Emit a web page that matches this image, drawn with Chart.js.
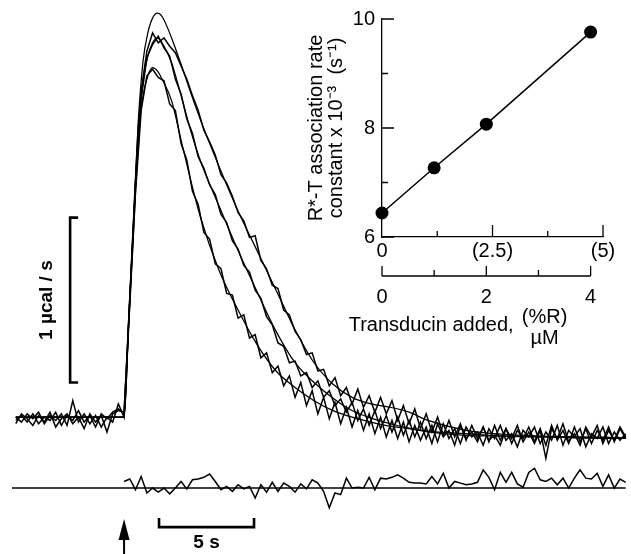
<!DOCTYPE html>
<html>
<head>
<meta charset="utf-8">
<script src="https://cdn.jsdelivr.net/npm/chart.js@4/dist/chart.umd.min.js"></script>
<style>
  html, body { margin: 0; padding: 0; background: #fff; }
  #wrap { position: relative; width: 631px; height: 554px; }
  #traceChart { position: absolute; left: 0; top: 0; }
  #rateChart { position: absolute; left: 300px; top: 0; }
</style>
</head>
<body>
<div id="wrap">
  <canvas id="traceChart" width="631" height="554"></canvas>
  <canvas id="rateChart" width="331" height="360"></canvas>
</div>
<script>
// ---- heat traces: time after injection (s), one sample every 0.3 s ----
const sampleTimes = [
  -5.7,-5.4,-5.1,-4.8,-4.5,-4.2,-3.9,-3.6,-3.3,-3.0,-2.7,-2.4,-2.1,-1.8,-1.5,-1.2,-0.9,-0.6,-0.3,
  0,0.3,0.6,0.9,1.2,1.5,1.8,2.1,2.4,2.7,
  3.0,3.3,3.6,3.9,4.2,4.5,4.8,5.1,5.4,5.7,
  6.0,6.3,6.6,6.9,7.2,7.5,7.8,8.1,8.4,8.7,
  9.0,9.3,9.6,9.9,10.2,10.5,10.8,11.1,11.4,11.7,
  12.0,12.3,12.6,12.9,13.2,13.5,13.8,14.1,14.4,14.7,
  15.0,15.3,15.6,15.9,16.2,16.5,16.8,17.1,17.4,17.7,
  18.0,18.3,18.6,18.9,19.2,19.5,19.8,20.1,20.4,20.7,
  21.0,21.3,21.6,21.9,22.2,22.5,22.8,23.1,23.4,23.7,
  24.0,24.3,24.6,24.9,25.2,25.5,25.8,26.1,26.4
];

// measured heat flow (µcal/s), slow / middle / fast trace
const traceSlow = [
  -0.02,0.01,-0.03,0.02,-0.04,0.00,-0.02,0.03,-0.05,0.01,-0.02,0.04,-0.03,0.01,-0.06,0.02,-0.01,0.03,0.05,
  0.02,0.72,1.42,1.98,2.22,2.33,2.27,2.30,2.25,2.21,
  2.13,2.05,1.95,1.86,1.74,1.67,1.59,1.47,1.42,1.34,
  1.24,1.19,1.09,1.10,0.95,0.90,0.80,0.78,0.65,0.62,
  0.52,0.47,0.38,0.39,0.28,0.29,0.19,0.24,0.13,0.18,
  0.08,0.17,0.06,0.13,0.03,0.12,0.02,0.10,-0.02,0.07,
  -0.04,0.05,-0.07,0.02,-0.09,0.00,-0.11,-0.02,-0.12,-0.04,
  -0.14,-0.05,-0.13,-0.06,-0.15,-0.05,-0.14,-0.07,-0.16,-0.08,
  -0.13,-0.06,-0.15,-0.07,-0.17,-0.05,-0.14,-0.08,-0.16,-0.06,
  -0.15,-0.07,-0.16,-0.08,-0.14,-0.06,-0.15,-0.07,-0.13
];
const traceMiddle = [
  0.00,-0.03,0.02,-0.01,0.03,-0.04,0.01,-0.02,0.02,-0.05,0.10,-0.03,0.02,-0.04,0.01,-0.06,0.00,-0.03,0.08,
  0.00,0.70,1.38,1.93,2.18,2.26,2.31,2.24,2.19,2.05,
  1.96,1.81,1.72,1.58,1.51,1.41,1.35,1.23,1.18,1.07,
  1.02,0.92,0.88,0.77,0.72,0.61,0.56,0.45,0.43,0.33,
  0.34,0.25,0.27,0.18,0.22,0.12,0.16,0.07,0.11,0.03,
  0.09,-0.02,0.05,-0.05,0.04,-0.07,0.01,-0.09,0.00,-0.11,
  -0.02,-0.12,-0.03,-0.13,-0.05,-0.15,-0.04,-0.13,-0.07,-0.16,
  -0.06,-0.12,-0.09,-0.17,-0.07,-0.13,-0.05,-0.14,-0.10,-0.18,
  -0.08,-0.12,-0.06,-0.16,-0.09,-0.14,-0.05,-0.17,-0.08,-0.12,
  -0.07,-0.18,-0.10,-0.13,-0.06,-0.16,-0.09,-0.14,-0.10
];
const traceFast = [
  -0.04,0.02,-0.01,-0.05,0.01,-0.03,0.03,-0.06,-0.01,0.02,-0.04,0.00,-0.07,0.02,-0.03,0.01,-0.09,0.02,0.04,
  0.03,0.68,1.36,1.86,2.07,2.11,2.06,2.04,1.90,1.86,
  1.66,1.56,1.37,1.29,1.12,1.08,0.93,0.90,0.75,0.74,
  0.60,0.62,0.48,0.50,0.36,0.39,0.27,0.31,0.19,0.25,
  0.12,0.21,0.07,0.16,0.02,0.12,-0.01,0.09,-0.04,0.06,
  -0.06,0.04,-0.08,0.02,-0.10,0.00,-0.12,-0.02,-0.13,-0.03,
  -0.15,-0.05,-0.14,-0.06,-0.16,-0.04,-0.12,-0.08,-0.17,-0.05,
  -0.13,-0.09,-0.15,-0.06,-0.14,-0.11,-0.17,-0.07,-0.13,-0.05,
  -0.15,-0.09,-0.16,-0.08,-0.25,-0.07,-0.13,-0.04,-0.15,-0.10,
  -0.17,-0.06,-0.12,-0.05,-0.16,-0.08,-0.14,-0.06,-0.12
];

// residual of one fit (µcal/s), from the injection on
const residual = [
  0.04,0.055,-0.01,0.07,-0.03,0.00,-0.025,0.00,-0.035,0.00,
  0.04,-0.005,0.05,0.055,0.065,0.085,0.04,-0.01,0.01,-0.02,
  0.02,-0.005,0.01,-0.06,0.02,-0.025,0.035,-0.02,0.03,0.01,
  -0.025,0.025,-0.005,0.05,0.03,-0.02,-0.12,-0.03,-0.04,0.06,
  0.00,0.005,0.00,0.065,-0.01,0.06,0.055,0.065,0.08,0.06,
  0.035,0.03,0.03,0.025,0.07,0.025,0.09,0.00,0.04,0.03,
  0.02,0.025,0.035,0.11,0.065,-0.01,0.095,0.035,0.095,0.025,
  0.005,0.095,0.12,0.05,0.04,0.06,0.02,0.06,0.00,0.06,
  0.11,0.06,0.055,0.09,0.01,0.08,0.00,0.055,0.035
];

// fitted curves (µcal/s)
const fitTimes = [-5.7,0,0.25,0.5,0.75,1.0,1.25,1.5,1.75,2.0,2.5,3.0,3.5,4.0,5.0,6.0,7.0,8.0,9.0,10,11,12,13,14,15,16,18,20,22,24,26.4];
const fitSlow   = [0,0,0.62,1.22,1.80,2.16,2.33,2.42,2.45,2.43,2.30,2.14,1.97,1.81,1.52,1.25,1.01,0.77,0.53,0.33,0.20,0.12,0.08,0.06,0.03,-0.02,-0.08,-0.105,-0.115,-0.12,-0.125];
const fitMiddle = [0,0,0.60,1.18,1.77,2.04,2.19,2.27,2.30,2.27,2.15,1.95,1.74,1.56,1.28,1.01,0.76,0.52,0.33,0.21,0.115,0.04,-0.006,-0.04,-0.067,-0.085,-0.10,-0.115,-0.12,-0.125,-0.127];
const fitFast   = [0,0,0.59,1.18,1.71,1.95,2.07,2.12,2.10,2.05,1.92,1.68,1.44,1.22,0.89,0.65,0.44,0.28,0.18,0.10,0.04,0.0,-0.03,-0.055,-0.07,-0.09,-0.11,-0.115,-0.12,-0.125,-0.127];

// ---- inset: association rate constant vs transducin added ----
const transducinMicromolar = [0, 1, 2, 4];
const rateConstant = [6.44, 7.27, 8.07, 9.76];      // x 10^-3 s^-1
const rateTicks = [6, 7, 8, 9, 10];
const percentRTicks = [0, 1.25, 2.5, 3.75, 5];
const percentRLabels = ['0', '', '(2.5)', '', '(5)'];
const micromolarTicks = [0, 1, 2, 3, 4];
const percentRPerMicromolar = 1.18;

// ---- layout of the trace panel ----
const timeRange = [-6.53, 26.68];
const signalRange = [-0.83, 2.53];
const residualOffset = -0.43;
const residualZeroSpan = [-5.9, 26.4];
const calBar = { t: -2.84, from: 0.21, size: 1 };
const timeBar = { from: 1.84, size: 5, level: -0.667 };
const injection = { t: 0, tip: -0.618 };

[traceSlow, traceMiddle, traceFast].forEach(a => {
  if (a.length !== sampleTimes.length) throw new Error('trace length ' + a.length);
});
[fitSlow, fitMiddle, fitFast].forEach(a => {
  if (a.length !== fitTimes.length) throw new Error('fit length ' + a.length);
});
const residualTimes = sampleTimes.filter(t => t >= 0);
if (residualTimes.length !== residual.length) throw new Error('residual length ' + residual.length);

Chart.defaults.font.family = '"Liberation Sans", Arial, sans-serif';
Chart.defaults.color = '#000';

function pairs(xs, ys, shift) {
  return xs.map((x, i) => ({ x: x, y: ys[i] + (shift || 0) }));
}
function traceSet(data, smooth) {
  return {
    data: data, borderColor: '#000', borderWidth: smooth ? 1.25 : 1.5,
    pointRadius: 0, tension: 0, fill: false,
    cubicInterpolationMode: smooth ? 'monotone' : 'default'
  };
}

const traceMarks = {
  id: 'traceMarks',
  afterDatasetsDraw(chart) {
    const { ctx, scales: { x, y } } = chart;
    ctx.save();
    ctx.strokeStyle = '#000';
    ctx.fillStyle = '#000';
    ctx.lineWidth = 2.6;
    // 1 µcal/s bar
    const cx = x.getPixelForValue(calBar.t);
    const c0 = y.getPixelForValue(calBar.from);
    const c1 = y.getPixelForValue(calBar.from + calBar.size);
    ctx.beginPath();
    ctx.moveTo(cx + 8, c1); ctx.lineTo(cx, c1); ctx.lineTo(cx, c0); ctx.lineTo(cx + 8, c0);
    ctx.stroke();
    // 5 s bar
    const t0 = x.getPixelForValue(timeBar.from);
    const t1 = x.getPixelForValue(timeBar.from + timeBar.size);
    const ty = y.getPixelForValue(timeBar.level);
    ctx.beginPath();
    ctx.moveTo(t0, ty - 9); ctx.lineTo(t0, ty); ctx.lineTo(t1, ty); ctx.lineTo(t1, ty - 9);
    ctx.stroke();
    // injection arrow
    const ax = x.getPixelForValue(injection.t);
    const ay = y.getPixelForValue(injection.tip);
    ctx.lineWidth = 2;
    ctx.beginPath();
    ctx.moveTo(ax, ay + 15); ctx.lineTo(ax, chart.chartArea.bottom);
    ctx.stroke();
    ctx.beginPath();
    ctx.moveTo(ax, ay); ctx.lineTo(ax - 5.5, ay + 21); ctx.lineTo(ax + 5.5, ay + 21);
    ctx.closePath();
    ctx.fill();
    // labels
    ctx.font = 'bold 19px "Liberation Sans", Arial, sans-serif';
    ctx.textAlign = 'center';
    ctx.textBaseline = 'middle';
    ctx.fillText('5 s', (t0 + t1) / 2, ty + 16);
    ctx.translate(cx - 23, (c0 + c1) / 2);
    ctx.rotate(-Math.PI / 2);
    ctx.fillText('1 µcal / s', 0, 0);
    ctx.restore();
  }
};

new Chart(document.getElementById('traceChart'), {
  type: 'line',
  data: {
    datasets: [
      traceSet(pairs(sampleTimes, traceSlow), false),
      traceSet(pairs(sampleTimes, traceMiddle), false),
      traceSet(pairs(sampleTimes, traceFast), false),
      traceSet(pairs(fitTimes, fitSlow), true),
      traceSet(pairs(fitTimes, fitMiddle), true),
      traceSet(pairs(fitTimes, fitFast), true),
      traceSet(pairs(residualZeroSpan, [0, 0], residualOffset), false),
      traceSet(pairs(residualTimes, residual, residualOffset), false)
    ]
  },
  options: {
    responsive: false,
    animation: false,
    layout: { padding: 0 },
    plugins: { legend: { display: false }, tooltip: { enabled: false } },
    scales: {
      x: { type: 'linear', display: false, min: timeRange[0], max: timeRange[1] },
      y: { type: 'linear', display: false, min: signalRange[0], max: signalRange[1] }
    }
  },
  plugins: [traceMarks]
});

const insetAxes = {
  id: 'insetAxes',
  afterDraw(chart) {
    const { ctx, chartArea: area, scales: { y, xr, xm } } = chart;
    ctx.save();
    ctx.strokeStyle = '#000';
    ctx.fillStyle = '#000';
    ctx.lineWidth = 1.3;
    ctx.beginPath();
    // inward ticks
    rateTicks.forEach(v => {
      const py = y.getPixelForValue(v);
      ctx.moveTo(area.left, py);
      ctx.lineTo(area.left + (v % 2 === 0 ? 12 : 6), py);
    });
    percentRTicks.forEach(v => {
      if (v === 0) return;
      const px = xr.getPixelForValue(v);
      ctx.moveTo(px, area.bottom);
      ctx.lineTo(px, area.bottom - (v % 2.5 === 0 ? 12 : 6));
    });
    // detached µM axis
    const ly = area.bottom + 39;
    ctx.moveTo(xm.getPixelForValue(micromolarTicks[0]), ly);
    ctx.lineTo(xm.getPixelForValue(micromolarTicks[micromolarTicks.length - 1]), ly);
    micromolarTicks.forEach(v => {
      const px = xm.getPixelForValue(v);
      ctx.moveTo(px, ly);
      ctx.lineTo(px, ly - (v % 2 === 0 ? 10 : 6));
    });
    ctx.stroke();
    ctx.font = '20px "Liberation Sans", Arial, sans-serif';
    ctx.textAlign = 'center';
    ctx.textBaseline = 'middle';
    micromolarTicks.forEach(v => {
      if (v % 2 === 0) ctx.fillText(String(v), xm.getPixelForValue(v), ly + 21);
    });
    const ux = xm.getPixelForValue(micromolarTicks[micromolarTicks.length - 1]) - 46;
    ctx.fillText('(%R)', ux, ly + 41);
    ctx.fillText('µM', ux, ly + 62);
    ctx.textAlign = 'right';
    ctx.fillText('Transducin added,', ux - 31, ly + 49);
    ctx.restore();
  }
};

new Chart(document.getElementById('rateChart'), {
  type: 'scatter',
  data: {
    datasets: [{
      data: pairs(transducinMicromolar, rateConstant),
      xAxisID: 'xm', yAxisID: 'y',
      showLine: true, borderColor: '#000', borderWidth: 1.5,
      pointRadius: 6.5, pointBackgroundColor: '#000', pointBorderWidth: 0,
      clip: false
    }]
  },
  options: {
    responsive: false,
    animation: false,
    layout: { padding: { left: 0, top: 17, right: 28, bottom: 93 } },
    plugins: { legend: { display: false }, tooltip: { enabled: false } },
    scales: {
      y: {
        type: 'linear', position: 'left', min: 6, max: 10,
        afterBuildTicks: s => { s.ticks = rateTicks.map(v => ({ value: v })); },
        afterFit: s => { s.width = 82; },
        grid: { display: false, drawTicks: false },
        border: { display: true, color: '#000', width: 1.3 },
        ticks: { font: { size: 20 }, padding: 7, callback: v => (v % 2 === 0 ? String(v) : '') },
        title: {
          display: true,
          text: ['R*-T association rate', 'constant x 10⁻³  (s⁻¹)'],
          font: { size: 20, lineHeight: 1.0 },
          padding: { top: 6, bottom: 0 }
        }
      },
      xr: {
        type: 'linear', position: 'bottom', min: 0, max: 5,
        afterBuildTicks: s => { s.ticks = percentRTicks.map(v => ({ value: v })); },
        afterFit: s => { s.height = 30; },
        grid: { display: false, drawTicks: false },
        border: { display: true, color: '#000', width: 1.3 },
        ticks: {
          font: { size: 20 }, padding: 2, autoSkip: false, maxRotation: 0,
          callback: v => percentRLabels[percentRTicks.indexOf(v)]
        }
      },
      xm: {
        type: 'linear', position: 'bottom', display: false,
        min: 0, max: 5 / percentRPerMicromolar
      }
    }
  },
  plugins: [insetAxes]
});
</script>
</body>
</html>
